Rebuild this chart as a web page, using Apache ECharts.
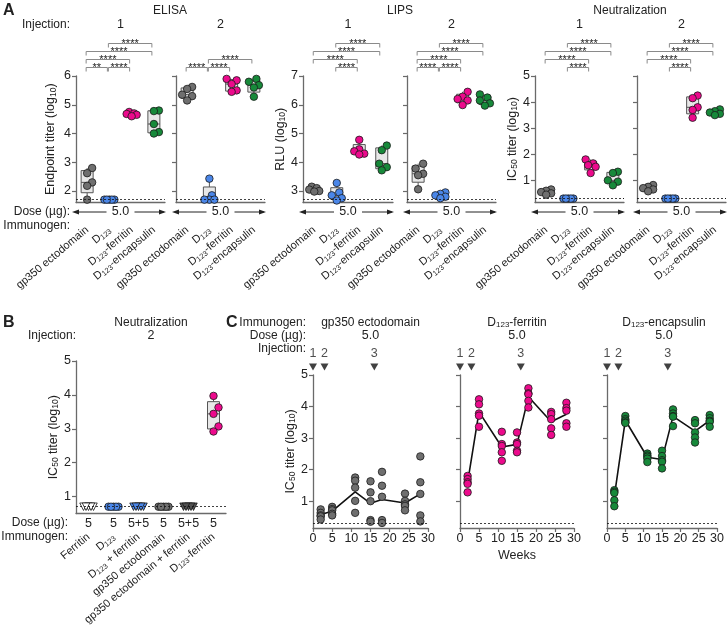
<!DOCTYPE html>
<html><head><meta charset="utf-8">
<script src="https://cdn.jsdelivr.net/npm/echarts@6/dist/echarts.min.js"></script>
<style>html,body{margin:0;padding:0;background:#fff}#c{width:727px;height:640px}</style>
</head><body><div id="c"></div>
<script>
// ================= DATA =================
const immunogensA = ['gp350 ectodomain', 'D123', 'D123-ferritin', 'D123-encapsulin'];
const injectionsA = ['1', '2'];
const doseA = '5.0';
// ELISA endpoint titer (log10), 5 mice per group
const elisaInj1 = [[2.8, 2.62, 2.3, 2.18, 1.7], [1.7, 1.7, 1.7, 1.7, 1.7], [4.75, 4.7, 4.68, 4.65, 4.6], [4.8, 4.78, 4.33, 4.05, 4.0]];
const elisaInj2 = [[5.62, 5.55, 5.35, 5.3, 5.15], [2.43, 1.85, 1.7, 1.7, 1.7], [5.9, 5.85, 5.72, 5.5, 5.45], [5.9, 5.8, 5.68, 5.6, 5.28]];
// LIPS RLU (log10)
const lipsInj1 = [[3.15, 3.1, 3.05, 3.0, 2.98], [3.28, 2.95, 2.85, 2.75, 2.67], [4.78, 4.45, 4.38, 4.3, 4.27], [4.58, 4.42, 3.95, 3.83, 3.72]];
const lipsInj2 = [[3.95, 3.78, 3.6, 3.55, 3.06], [2.95, 2.9, 2.85, 2.8, 2.75], [6.45, 6.28, 6.2, 6.15, 5.99], [6.36, 6.25, 6.15, 6.05, 5.97]];
// Neutralization IC50 titer (log10)
const neutInj1 = [[0.65, 0.6, 0.55, 0.5, 0.45], [0.3, 0.3, 0.3, 0.3, 0.3], [1.8, 1.65, 1.58, 1.52, 1.28], [1.33, 1.28, 1.0, 0.95, 0.81]];
const neutInj2 = [[0.82, 0.75, 0.7, 0.65, 0.58], [0.3, 0.3, 0.3, 0.3, 0.3], [4.25, 4.15, 3.8, 3.7, 3.4], [3.72, 3.65, 3.6, 3.55, 3.5]];
const lodElisa = 1.7, lodLips = 2.7, lodNeut = 0.3;
// significance brackets: [fromCategory, toCategory, stackLevel]
const bracketsElisa1 = [[0, 1, 1], [1, 2, 1], [0, 2, 2], [0, 3, 3], [1, 3, 4]];
const starsElisa1 = ['**', '****', '****', '****', '****'];
const bracketsElisa2 = [[0, 1, 1], [1, 2, 1], [1, 3, 2]];
const starsElisa2 = ['****', '****', '****'];
const bracketsLips1 = [[1, 2, 1], [0, 2, 2], [0, 3, 3], [1, 3, 4]];
const starsLips1 = ['****', '****', '****', '****'];
const bracketsLips2 = [[0, 1, 1], [1, 2, 1], [0, 2, 2], [0, 3, 3], [1, 3, 4]];
const starsLips2 = ['****', '****', '****', '****', '****'];
const bracketsNeut1 = [[1, 2, 1], [0, 2, 2], [0, 3, 3], [1, 3, 4]];
const starsNeut1 = ['****', '****', '****', '****'];
const bracketsNeut2 = [[1, 2, 1], [0, 2, 2], [0, 3, 3], [1, 3, 4]];
const starsNeut2 = ['****', '****', '****', '****'];

// Panel B
const immunogensB = ['Ferritin', 'D123', 'D123 + ferritin', 'gp350 ectodomain', 'gp350 ectodomain + ferritin', 'D123-ferritin'];
const dosesB = ['5', '5', '5+5', '5', '5+5', '5'];
const neutB = [[0.7, 0.7, 0.7, 0.7, 0.7], [0.7, 0.7, 0.7, 0.7, 0.7], [0.7, 0.7, 0.7, 0.7, 0.7], [0.7, 0.7, 0.7, 0.7, 0.7], [0.7, 0.7, 0.7, 0.7, 0.7], [3.97, 3.63, 3.44, 3.07, 2.92]];
const lodB = 0.7;

// Panel C
const immunogensC = ['gp350 ectodomain', 'D123-ferritin', 'D123-encapsulin'];
const doseC = '5.0';
const weeksC = [2, 5, 11, 15, 18, 24, 28];
const injectionWeeks = [0, 3, 16];
const injectionNums = ['1', '2', '3'];
const gp350C = [[0.74, 0.63, 0.55, 0.52, 0.42], [0.82, 0.75, 0.71, 0.6, 0.55], [1.75, 1.65, 1.43, 1.01, 0.63], [1.63, 1.28, 1.0, 0.4, 0.35], [1.93, 1.49, 1.14, 0.4, 0.31], [1.24, 1.01, 0.9, 0.85, 0.71], [2.42, 1.6, 1.23, 0.55, 0.36]];
const ferritinC = [[1.8, 1.7, 1.6, 1.55, 1.28], [4.23, 4.07, 3.78, 3.71, 3.36], [3.2, 2.81, 2.75, 2.55, 2.28], [3.18, 2.86, 2.81, 2.6, 2.55], [4.58, 4.42, 4.39, 4.18, 3.97], [3.83, 3.76, 3.6, 3.31, 3.1], [4.12, 3.95, 3.87, 3.47, 3.36]];
const encapsulinC = [[1.35, 1.3, 1.26, 1.03, 0.84], [3.7, 3.6, 3.55, 3.5, 3.48], [2.51, 2.45, 2.41, 2.35, 2.24], [2.6, 2.43, 2.3, 2.25, 2.04], [3.91, 3.78, 3.7, 3.68, 3.38], [3.57, 3.47, 3.18, 3.02, 2.86], [3.73, 3.63, 3.55, 3.52, 3.36]];
const lodC = 0.3;

// ================= STYLE / HELPERS =================
const FONT = "'Liberation Sans', Arial, Helvetica, sans-serif";
const AX = '#6a6a6a';
const TXT = '#222';
const COL = { gray: '#6f6f6f', blue: '#4a86e8', pink: '#ec0a8c', green: '#17893a', dark: '#505050', white: '#ffffff' };
const colorsA = [COL.gray, COL.blue, COL.pink, COL.green];
const sub = s => s.replace(/D123/g, 'D{s|123}');
const subStyle = { fontSize: 7.5, lineHeight: 8, verticalAlign: 'bottom', fontFamily: FONT, color: TXT };

function quant(sorted, p) {
  const n = sorted.length; let pos = (n + 1) * p;
  if (pos <= 1) return sorted[0];
  if (pos >= n) return sorted[n - 1];
  const lo = Math.floor(pos), f = pos - lo;
  return sorted[lo - 1] + f * (sorted[lo] - sorted[lo - 1]);
}
function stats(v) {
  const s = v.slice().sort((a, b) => a - b);
  return [s[0], quant(s, 0.25), quant(s, 0.5), quant(s, 0.75), s[s.length - 1]];
}
function swarm(vals, ppu, diam, step) {
  const idx = vals.map((v, i) => i).sort((a, b) => vals[a] - vals[b]);
  const placed = [], off = new Array(vals.length).fill(0);
  const cands = [0, step, -step, 2 * step, -2 * step];
  idx.forEach(i => {
    const y = vals[i] * ppu; let best = 0, bestD = -1;
    for (const c of cands) {
      let md = Infinity;
      placed.forEach(p => { const d = Math.hypot(p[0] - c, p[1] - y); if (d < md) md = d; });
      if (md >= diam) { best = c; break; }
      if (md > bestD) { bestD = md; best = c; }
    }
    off[i] = best; placed.push([best, y]);
  });
  return off;
}
function boxRender(params, api) {
  const x = api.value(0);
  const pMin = api.coord([x, api.value(1)]), pQ1 = api.coord([x, api.value(2)]), pMed = api.coord([x, api.value(3)]),
    pQ3 = api.coord([x, api.value(4)]), pMax = api.coord([x, api.value(5)]);
  const w = 6, cx = pMin[0];
  const st = { stroke: '#555', lineWidth: 1 };
  return { type: 'group', children: [
    { type: 'line', shape: { x1: cx, y1: pMax[1], x2: cx, y2: pQ3[1] }, style: st },
    { type: 'line', shape: { x1: cx, y1: pQ1[1], x2: cx, y2: pMin[1] }, style: st },
    { type: 'rect', shape: { x: cx - w, y: pQ3[1], width: 2 * w, height: Math.max(pQ1[1] - pQ3[1], 0.5) }, style: { fill: '#e8e8e8', stroke: '#555', lineWidth: 1 } },
    { type: 'line', shape: { x1: cx - w, y1: pMed[1], x2: cx + w, y2: pMed[1] }, style: st }
  ] };
}
const grid = [], xAxis = [], yAxis = [], series = [], graphic = [];
function text(x, y, t, o) {
  o = o || {};
  graphic.push({ type: 'text', x: x, y: y, silent: true, style: Object.assign({ text: t, font: (o.bold ? 'bold ' : '') + (o.size || 12) + 'px ' + FONT, fill: TXT, align: o.align || 'center', verticalAlign: 'middle' }, o.rich ? { rich: o.rich } : {}) });
}
function yAxisBase(gi, min, max, ticks, showLabels, name, gap) {
  return { type: 'value', gridIndex: gi, min: min, max: max,
    axisLine: { show: true, lineStyle: { color: AX, width: 1.3 } },
    axisTick: { show: true, length: 4, customValues: ticks, lineStyle: { color: AX, width: 1.2 } },
    axisLabel: { show: showLabels, customValues: ticks, fontSize: 12.5, color: TXT, fontFamily: FONT, margin: 5 },
    splitLine: { show: false },
    name: name || '', nameLocation: 'middle', nameGap: gap || 20,
    nameTextStyle: { fontSize: 12.5, color: TXT, fontFamily: FONT, lineHeight: 14, rich: { s: { fontSize: 8.5, lineHeight: 8, verticalAlign: 'bottom', fontFamily: FONT, color: TXT } } } };
}
function markLod(v) {
  return { silent: true, symbol: 'none', label: { show: false }, animation: false,
    lineStyle: { color: '#111', type: [2, 2], width: 0.8 }, data: [{ yAxis: v }] };
}
function addGrid(g) { grid.push(g); return grid.length - 1; }
function addX(a) { xAxis.push(a); return xAxis.length - 1; }
function addY(a) { yAxis.push(a); return yAxis.length - 1; }

// ---------- Panel A subplot ----------
function addA(L, values, brackets, stars, lod) {
  const gi = addGrid({ left: L.left, top: 76, width: L.width, height: 126.5 });
  const xi = addX({ type: 'category', gridIndex: gi, data: immunogensA,
    axisLine: { lineStyle: { color: AX, width: 1.3 } }, axisTick: { show: false },
    axisLabel: { rotate: 40, margin: 26, interval: 0, fontSize: 11, color: TXT, fontFamily: FONT, lineHeight: 13, formatter: v => sub(v), rich: { s: subStyle } } });
  const yi = addY(yAxisBase(gi, L.min, L.max, L.ticks, L.labels, L.name, L.gap));
  const ppu = 126.5 / (L.max - L.min);
  series.push({ type: 'custom', xAxisIndex: xi, yAxisIndex: yi, z: 2, renderItem: boxRender, encode: { x: 0, y: [1, 2, 3, 4, 5] },
    data: values.map((v, i) => [i].concat(stats(v))) });
  const pts = [];
  values.forEach((v, i) => {
    const off = swarm(v, ppu, 7, 2.5);
    v.forEach((val, j) => pts.push({ value: [i, val], symbolOffset: [off[j], 0], itemStyle: { color: colorsA[i] } }));
  });
  series.push({ type: 'scatter', xAxisIndex: xi, yAxisIndex: yi, z: 3, symbolSize: 7.5, data: pts,
    itemStyle: { borderColor: '#1a1a1a', borderWidth: 0.8, opacity: 1 }, markLine: markLod(lod) });
  // brackets
  const bi = addGrid({ left: L.left, top: 35, width: L.width, height: 40 });
  const bxi = addX({ type: 'category', gridIndex: bi, data: immunogensA, show: false });
  const byi = addY({ type: 'value', gridIndex: bi, min: 0, max: 5, show: false });
  series.push({ type: 'custom', xAxisIndex: bxi, yAxisIndex: byi, encode: { x: [0, 1], y: 2 }, data: brackets,
    renderItem: (params, api) => {
      const a = api.coord([api.value(0), api.value(2)]), b = api.coord([api.value(1), api.value(2)]);
      const x1 = a[0] - 1, x2 = b[0] - 2, y = Math.round(a[1]) + 0.5;
      return { type: 'group', children: [
        { type: 'polyline', shape: { points: [[x1, y + 4], [x1, y], [x2, y], [x2, y + 4]] }, style: { stroke: '#8a8a8a', lineWidth: 1, fill: null } },
        { type: 'text', x: (x1 + x2) / 2, y: y + 5.5, style: { text: stars[params.dataIndex], align: 'center', verticalAlign: 'bottom', font: '11px ' + FONT, fill: TXT } }
      ] };
    } });
  // dose arrow row
  const cx = L.left + L.width / 2, y = 212;
  graphic.push({ type: 'line', silent: true, shape: { x1: L.left - 1, y1: y, x2: cx - 14, y2: y }, style: { stroke: '#222', lineWidth: 1 } });
  graphic.push({ type: 'line', silent: true, shape: { x1: cx + 14, y1: y, x2: L.left + L.width - 1, y2: y }, style: { stroke: '#222', lineWidth: 1 } });
  graphic.push({ type: 'polygon', silent: true, shape: { points: [[L.left - 4, y], [L.left + 3, y - 2.5], [L.left + 3, y + 2.5]] }, style: { fill: '#222' } });
  graphic.push({ type: 'polygon', silent: true, shape: { points: [[L.left + L.width + 1, y], [L.left + L.width - 6, y - 2.5], [L.left + L.width - 6, y + 2.5]] }, style: { fill: '#222' } });
  text(cx, y, doseA, { size: 12.5 });
  text(cx, 25, L.inj, { size: 12.5 });
}

const tE = [2, 3, 4, 5, 6], tL = [3, 4, 5, 6, 7], tN = [1, 2, 3, 4, 5];
addA({ left: 76, width: 89, min: 1.6, max: 6, ticks: tE, labels: true, name: 'Endpoint titer (log{s|10})', gap: 18, inj: injectionsA[0] }, elisaInj1, bracketsElisa1, starsElisa1, lodElisa);
addA({ left: 176, width: 89, min: 1.6, max: 6, ticks: tE, labels: false, inj: injectionsA[1] }, elisaInj2, bracketsElisa2, starsElisa2, lodElisa);
addA({ left: 303, width: 90, min: 2.6, max: 7, ticks: tL, labels: true, name: 'RLU (log{s|10})', gap: 14, inj: injectionsA[0] }, lipsInj1, bracketsLips1, starsLips1, lodLips);
addA({ left: 407, width: 89, min: 2.6, max: 7, ticks: tL, labels: false, inj: injectionsA[1] }, lipsInj2, bracketsLips2, starsLips2, lodLips);
addA({ left: 535, width: 89, min: 0.15, max: 5, ticks: tN, labels: true, name: 'IC{s|50} titer (log{s|10})', gap: 14, inj: injectionsA[0] }, neutInj1, bracketsNeut1, starsNeut1, lodNeut);
addA({ left: 637, width: 89, min: 0.15, max: 5, ticks: tN, labels: false, inj: injectionsA[1] }, neutInj2, bracketsNeut2, starsNeut2, lodNeut);

text(3, 11, 'A', { bold: true, size: 16, align: 'left' });
text(170, 11, 'ELISA');
text(400, 11, 'LIPS');
text(630, 11, 'Neutralization');
text(70, 25, 'Injection:', { align: 'right' });
text(70, 212, 'Dose (µg):', { align: 'right' });
text(70, 226, 'Immunogen:', { align: 'right' });

// ---------- Panel B ----------
(function () {
  const left = 76, width = 150, top = 361, height = 152.5, min = 0.5, max = 5;
  const gi = addGrid({ left: left, top: top, width: width, height: height });
  const xi = addX({ type: 'category', gridIndex: gi, data: immunogensB,
    axisLine: { lineStyle: { color: AX, width: 1.3 } }, axisTick: { show: false },
    axisLabel: { rotate: 40, margin: 22, interval: 0, fontSize: 11, color: TXT, fontFamily: FONT, lineHeight: 13, formatter: v => sub(v), rich: { s: subStyle } } });
  addX({ type: 'category', gridIndex: gi, data: dosesB, position: 'bottom',
    axisLine: { show: false }, axisTick: { show: false },
    axisLabel: { margin: 4, interval: 0, fontSize: 12.5, color: TXT, fontFamily: FONT } });
  const yi = addY(yAxisBase(gi, min, max, [1, 2, 3, 4, 5], true, 'IC{s|50} titer (log{s|10})', 15));
  series.push({ type: 'custom', xAxisIndex: xi, yAxisIndex: yi, z: 2, renderItem: boxRender, encode: { x: 0, y: [1, 2, 3, 4, 5] },
    data: neutB.map((v, i) => [i].concat(stats(v))) });
  const symB = ['triangle', 'circle', 'triangle', 'circle', 'triangle', 'circle'];
  const colB = [COL.white, COL.blue, COL.blue, COL.gray, COL.dark, COL.pink];
  const ppu = height / (max - min);
  const pts = [];
  neutB.forEach((v, i) => {
    const off = swarm(v, ppu, 7, 2.5);
    v.forEach((val, j) => pts.push({ value: [i, val], symbol: symB[i], symbolRotate: symB[i] === 'triangle' ? 180 : 0,
      symbolOffset: [off[j], 0], itemStyle: { color: colB[i] } }));
  });
  series.push({ type: 'scatter', xAxisIndex: xi, yAxisIndex: yi, z: 3, symbolSize: 7.5, data: pts,
    itemStyle: { borderColor: '#1a1a1a', borderWidth: 0.8, opacity: 1 }, markLine: markLod(lodB) });
  text(3, 323, 'B', { bold: true, size: 16, align: 'left' });
  text(151, 323, 'Neutralization');
  text(76, 336, 'Injection:', { align: 'right' });
  text(151, 336, '2', { size: 12.5 });
  text(68, 523, 'Dose (µg):', { align: 'right' });
  text(68, 537, 'Immunogen:', { align: 'right' });
})();

// ---------- Panel C ----------
function addC(L, values, color, name) {
  const top = 375, height = 153, min = 0.15, max = 5;
  const gi = addGrid({ left: L.left, top: top, width: L.width, height: height });
  const xi = addX({ type: 'value', gridIndex: gi, min: 0, max: 30, interval: 5,
    axisLine: { lineStyle: { color: AX, width: 1.3 } }, axisTick: { show: true, length: 4, lineStyle: { color: AX, width: 1.2 } },
    axisLabel: { margin: 4, fontSize: 12.5, color: TXT, fontFamily: FONT, showMinLabel: true, showMaxLabel: true },
    splitLine: { show: false },
    name: L.xname || '', nameLocation: 'middle', nameGap: 21, nameTextStyle: { fontSize: 12.5, color: TXT, fontFamily: FONT } });
  const yi = addY(yAxisBase(gi, min, max, [1, 2, 3, 4, 5], L.labels, L.labels ? 'IC{s|50} titer (log{s|10})' : '', 14));
  const pts = [];
  values.forEach((v, i) => v.forEach(val => pts.push([weeksC[i], val])));
  const means = values.map((v, i) => [weeksC[i], v.reduce((a, b) => a + b, 0) / v.length]);
  series.push({ type: 'line', xAxisIndex: xi, yAxisIndex: yi, z: 2, data: means, symbol: 'none',
    lineStyle: { color: '#111', width: 1.6 }, markLine: markLod(lodC) });
  series.push({ type: 'scatter', xAxisIndex: xi, yAxisIndex: yi, z: 3, symbolSize: 7.5, data: pts,
    itemStyle: { color: color, borderColor: '#1a1a1a', borderWidth: 0.8, opacity: 1 } });
  // injection markers
  const ti = addGrid({ left: L.left, top: 363, width: L.width, height: 8 });
  const txi = addX({ type: 'value', gridIndex: ti, min: 0, max: 30, show: false });
  const tyi = addY({ type: 'value', gridIndex: ti, min: -1, max: 1, show: false });
  series.push({ type: 'scatter', xAxisIndex: txi, yAxisIndex: tyi, symbol: 'triangle', symbolRotate: 180, symbolSize: [8, 7],
    itemStyle: { color: '#111' }, data: injectionWeeks.map(w => [w, 0]),
    label: { show: true, position: 'top', distance: 3, formatter: p => injectionNums[p.dataIndex], fontSize: 12.5, color: TXT, fontFamily: FONT } });
  const cx = L.left + L.width / 2;
  text(cx, 323, sub(name), { rich: { s: { fontSize: 8, lineHeight: 8, verticalAlign: 'bottom', fontFamily: FONT, fill: TXT } } });
  text(cx, 336, doseC, { size: 12.5 });
}
addC({ left: 313, width: 115, labels: true }, gp350C, COL.gray, immunogensC[0]);
addC({ left: 460, width: 114, labels: false, xname: 'Weeks' }, ferritinC, COL.pink, immunogensC[1]);
addC({ left: 607, width: 114, labels: false }, encapsulinC, COL.green, immunogensC[2]);
text(226, 323, 'C', { bold: true, size: 16, align: 'left' });
text(306, 323, 'Immunogen:', { align: 'right' });
text(306, 336, 'Dose (µg):', { align: 'right' });
text(306, 349, 'Injection:', { align: 'right' });

const chart = echarts.init(document.getElementById('c'), null, { renderer: 'canvas' });
chart.setOption({
  animation: false,
  backgroundColor: '#fff',
  textStyle: { fontFamily: FONT },
  grid: grid, xAxis: xAxis, yAxis: yAxis, series: series, graphic: graphic
});
</script></body></html>
